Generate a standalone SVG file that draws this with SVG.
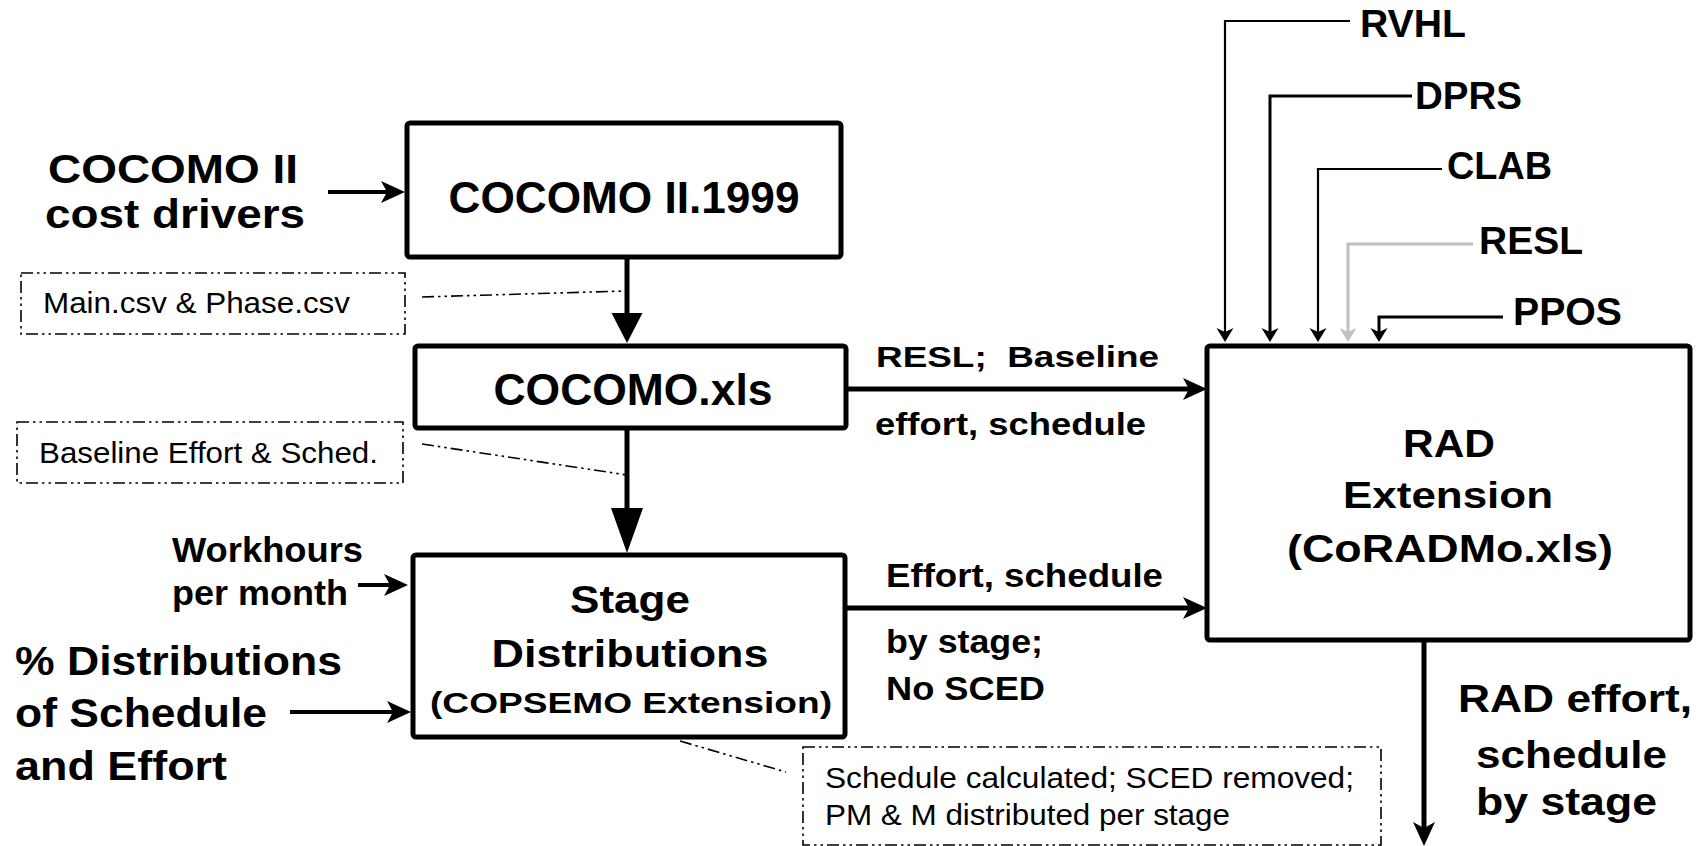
<svg xmlns="http://www.w3.org/2000/svg" width="1702" height="846" viewBox="0 0 1702 846">
<style>
  .box { fill: #fff; stroke: #000; stroke-width: 5; stroke-linejoin: round; }
  .note { fill: #fff; stroke: #000; stroke-width: 1.6; stroke-dasharray: 12 4 2.5 4 2.5 4; }
  .lead { fill: none; stroke: #000; stroke-width: 1.6; stroke-dasharray: 12 4 2.5 4 2.5 4; }
  .b { font-family: "Liberation Sans", Arial, sans-serif; font-weight: bold; fill: #000; }
  .r { font-family: "Liberation Sans", Arial, sans-serif; font-weight: normal; fill: #000; }
  .m { text-anchor: middle; }
  .w5 { fill: none; stroke: #000; stroke-width: 5; }
  .w4 { fill: none; stroke: #000; stroke-width: 4; }
  .w3 { fill: none; stroke: #000; stroke-width: 3; }
  .w2 { fill: none; stroke: #000; stroke-width: 2.2; }
  .grey { fill: none; stroke: #c0c0c0; stroke-width: 3; }
</style>
<defs>
  <marker id="ah" markerUnits="userSpaceOnUse" orient="auto" overflow="visible" refX="0" refY="0" markerWidth="30" markerHeight="30">
    <path d="M-6,-11 L18,0 L-6,11 L0,0 Z" fill="#000"/>
  </marker>
  <marker id="as" markerUnits="userSpaceOnUse" orient="auto" overflow="visible" refX="0" refY="0" markerWidth="20" markerHeight="20">
    <path d="M-4,-8.5 L10,0 L-4,8.5 L0,0 Z" fill="#000"/>
  </marker>
  <marker id="asg" markerUnits="userSpaceOnUse" orient="auto" overflow="visible" refX="0" refY="0" markerWidth="20" markerHeight="20">
    <path d="M-4,-8.5 L10,0 L-4,8.5 L0,0 Z" fill="#c0c0c0"/>
  </marker>
  <marker id="big1" markerUnits="userSpaceOnUse" orient="auto" overflow="visible" refX="0" refY="0" markerWidth="40" markerHeight="40">
    <path d="M0,-15.5 L30,0 L0,15.5 Z" fill="#000"/>
  </marker>
  <marker id="big2" markerUnits="userSpaceOnUse" orient="auto" overflow="visible" refX="0" refY="0" markerWidth="50" markerHeight="50">
    <path d="M0,-16 L45,0 L0,16 Z" fill="#000"/>
  </marker>
</defs>

<g id="connectors">
  <line class="w4" x1="328" y1="192" x2="387" y2="192" marker-end="url(#ah)"/>
  <line class="w5" x1="627" y1="257" x2="627" y2="313" marker-end="url(#big1)"/>
  <line class="w5" x1="627" y1="428" x2="627" y2="508" marker-end="url(#big2)"/>
  <line class="w4" x1="358" y1="585" x2="390" y2="585" marker-end="url(#ah)"/>
  <line class="w4" x1="290" y1="712" x2="393" y2="712" marker-end="url(#ah)"/>
  <line class="w5" x1="846" y1="389" x2="1189" y2="389" marker-end="url(#ah)"/>
  <line class="w5" x1="845" y1="608" x2="1189" y2="608" marker-end="url(#ah)"/>
  <line class="w5" x1="1424" y1="640" x2="1424" y2="828" marker-end="url(#ah)"/>
  <polyline class="w2" points="1350,21 1225,21 1225,332" marker-end="url(#as)"/>
  <polyline class="w3" points="1412,96 1270,96 1270,332" marker-end="url(#as)"/>
  <polyline class="w2" points="1442,169 1318,169 1318,332" marker-end="url(#as)"/>
  <polyline class="grey" points="1473,244 1348,244 1348,332" marker-end="url(#asg)"/>
  <polyline class="w3" points="1503,317 1379,317 1379,332" marker-end="url(#as)"/>
  <line class="lead" x1="422" y1="297" x2="625" y2="291"/>
  <line class="lead" x1="422" y1="444" x2="627" y2="475"/>
  <line class="lead" x1="680" y1="741" x2="786" y2="772"/>
</g>

<g id="cocomo1999">
  <rect class="box" x="407" y="123" width="434" height="134" rx="3"/>
  <text class="b m" x="624" y="213" font-size="44" textLength="351" lengthAdjust="spacingAndGlyphs">COCOMO II.1999</text>
</g>
<g id="cocomoxls">
  <rect class="box" x="415" y="346" width="431" height="82" rx="3"/>
  <text class="b m" x="633" y="405" font-size="44" textLength="279" lengthAdjust="spacingAndGlyphs">COCOMO.xls</text>
</g>
<g id="stage">
  <rect class="box" x="413" y="555" width="432" height="182" rx="3"/>
  <text class="b m" x="630" y="613" font-size="39" textLength="120" lengthAdjust="spacingAndGlyphs">Stage</text>
  <text class="b m" x="630" y="667" font-size="39" textLength="277" lengthAdjust="spacingAndGlyphs">Distributions</text>
  <text class="b m" x="631" y="713" font-size="29" textLength="402" lengthAdjust="spacingAndGlyphs">(COPSEMO Extension)</text>
</g>
<g id="rad">
  <rect class="box" x="1207" y="346" width="483" height="294" rx="3"/>
  <text class="b m" x="1449" y="457" font-size="38" textLength="92" lengthAdjust="spacingAndGlyphs">RAD</text>
  <text class="b m" x="1448" y="508" font-size="37" textLength="210" lengthAdjust="spacingAndGlyphs">Extension</text>
  <text class="b m" x="1450" y="562" font-size="38" textLength="326" lengthAdjust="spacingAndGlyphs">(CoRADMo.xls)</text>
</g>

<g id="cost-drivers">
  <text class="b m" x="173" y="183" font-size="40" textLength="250" lengthAdjust="spacingAndGlyphs">COCOMO II</text>
  <text class="b m" x="175" y="228" font-size="40" textLength="260" lengthAdjust="spacingAndGlyphs">cost drivers</text>
</g>
<g id="workhours">
  <text class="b" x="172" y="562" font-size="35" textLength="191" lengthAdjust="spacingAndGlyphs">Workhours</text>
  <text class="b" x="172" y="605" font-size="35" textLength="176" lengthAdjust="spacingAndGlyphs">per month</text>
</g>
<g id="distributions">
  <text class="b" x="15" y="675" font-size="40" textLength="327" lengthAdjust="spacingAndGlyphs">% Distributions</text>
  <text class="b" x="15" y="727" font-size="40" textLength="252" lengthAdjust="spacingAndGlyphs">of Schedule</text>
  <text class="b" x="15" y="780" font-size="40" textLength="212" lengthAdjust="spacingAndGlyphs">and Effort</text>
</g>

<g id="note-main">
  <rect class="note" x="21" y="273" width="384" height="61"/>
  <text class="r" x="43" y="313" font-size="30" textLength="307" lengthAdjust="spacingAndGlyphs">Main.csv &amp; Phase.csv</text>
</g>
<g id="note-baseline">
  <rect class="note" x="17" y="422" width="386" height="61"/>
  <text class="r" x="39" y="463" font-size="30" textLength="339" lengthAdjust="spacingAndGlyphs">Baseline Effort &amp; Sched.</text>
</g>
<g id="note-schedule">
  <rect class="note" x="803" y="747" width="578" height="98"/>
  <text class="r" x="825" y="788" font-size="30" textLength="529" lengthAdjust="spacingAndGlyphs">Schedule calculated; SCED removed;</text>
  <text class="r" x="825" y="825" font-size="30" textLength="405" lengthAdjust="spacingAndGlyphs">PM &amp; M distributed per stage</text>
</g>

<g id="labels">
  <text class="b" x="876" y="367" font-size="30" textLength="283" lengthAdjust="spacingAndGlyphs">RESL;&#160; Baseline</text>
  <text class="b" x="875" y="435" font-size="31" textLength="271" lengthAdjust="spacingAndGlyphs">effort, schedule</text>
  <text class="b" x="886" y="587" font-size="33" textLength="277" lengthAdjust="spacingAndGlyphs">Effort, schedule</text>
  <text class="b" x="886" y="653" font-size="33" textLength="157" lengthAdjust="spacingAndGlyphs">by stage;</text>
  <text class="b" x="886" y="700" font-size="33" textLength="159" lengthAdjust="spacingAndGlyphs">No SCED</text>
  <text class="b" x="1458" y="712" font-size="38" textLength="234" lengthAdjust="spacingAndGlyphs">RAD effort,</text>
  <text class="b" x="1476" y="768" font-size="38" textLength="191" lengthAdjust="spacingAndGlyphs">schedule</text>
  <text class="b" x="1476" y="815" font-size="38" textLength="181" lengthAdjust="spacingAndGlyphs">by stage</text>
</g>

<g id="inputs">
  <text class="b" x="1360" y="37" font-size="38" textLength="106" lengthAdjust="spacingAndGlyphs">RVHL</text>
  <text class="b" x="1415" y="109" font-size="38" textLength="107" lengthAdjust="spacingAndGlyphs">DPRS</text>
  <text class="b" x="1447" y="179" font-size="38" textLength="105" lengthAdjust="spacingAndGlyphs">CLAB</text>
  <text class="b" x="1479" y="254" font-size="38" textLength="104" lengthAdjust="spacingAndGlyphs">RESL</text>
  <text class="b" x="1513" y="325" font-size="38" textLength="109" lengthAdjust="spacingAndGlyphs">PPOS</text>
</g>
</svg>
